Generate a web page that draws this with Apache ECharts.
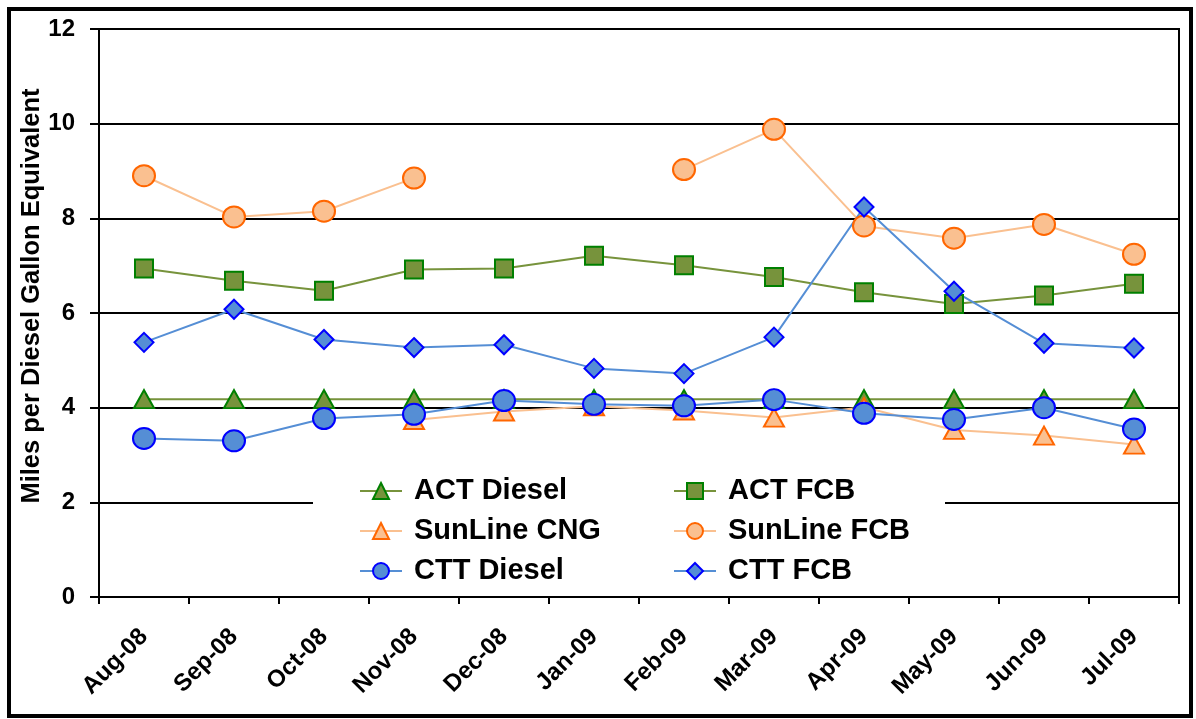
<!DOCTYPE html>
<html>
<head>
<meta charset="utf-8">
<script src="https://cdn.jsdelivr.net/npm/echarts@6/dist/echarts.min.js"></script>
<style>
html,body{margin:0;padding:0;background:#fff;}
#chart{width:1196px;height:719px;}
</style>
</head>
<body>
<div id="chart"></div>
<script>
const categories = ['Aug-08','Sep-08','Oct-08','Nov-08','Dec-08','Jan-09','Feb-09','Mar-09','Apr-09','May-09','Jun-09','Jul-09'];
const yTicks = [0, 2, 4, 6, 8, 10, 12];
const actDiesel = [4.18, 4.18, 4.18, 4.18, 4.18, 4.18, 4.18, 4.18, 4.18, 4.18, 4.18, 4.18];
const actFCB = [6.94, 6.68, 6.47, 6.92, 6.94, 7.21, 7.01, 6.76, 6.44, 6.19, 6.37, 6.62];
const sunlineCNG = [null, null, null, 3.74, 3.92, 4.03, 3.94, 3.79, 4.01, 3.53, 3.41, 3.22];
const sunlineFCB = [8.90, 8.03, 8.15, 8.85, null, null, 9.03, 9.88, 7.84, 7.58, 7.87, 7.24];
const cttDiesel = [3.35, 3.30, 3.77, 3.86, 4.15, 4.07, 4.04, 4.17, 3.88, 3.75, 4.00, 3.55];
const cttFCB = [5.38, 6.08, 5.44, 5.27, 5.33, 4.83, 4.72, 5.49, 8.24, 6.46, 5.36, 5.26];

const FONT = 'Liberation Sans, Arial, sans-serif';
const OLIVE = '#77933C', GREEN = '#008000';
const PEACH = '#FAC090', ORANGE = '#FF6600';
const BLUE = '#558ED5', DBLUE = '#0000FF';

function mk(name, data, lineColor, fill, border, symbol, size) {
  return {
    name: name, type: 'line', data: data,
    symbol: symbol, symbolSize: size,
    connectNulls: false,
    lineStyle: {color: lineColor, width: 2},
    itemStyle: {color: fill, borderColor: border, borderWidth: 2},
    emphasis: {disabled: true},
    animation: false
  };
}

const chart = echarts.init(document.getElementById('chart'));
const legendText = {fontFamily: FONT, fontWeight: 'bold', fontSize: 29, color: '#000', lineHeight: 30, padding: [0,0,0,7]};
chart.setOption({
  backgroundColor: '#fff',
  animation: false,
  grid: {left: 99, right: 17, top: 29, bottom: 122, show: true, borderColor: '#000', borderWidth: 2, backgroundColor: 'transparent'},
  xAxis: {
    type: 'category', data: categories, boundaryGap: true,
    axisLine: {lineStyle: {color: '#000', width: 2}},
    axisTick: {show: true, length: 7, lineStyle: {color: '#000', width: 2}},
    axisLabel: {rotate: 45, margin: 36, fontFamily: FONT, fontWeight: 'bold', fontSize: 24, color: '#000'},
    splitLine: {show: false}
  },
  yAxis: {
    type: 'value', min: 0, max: 12, interval: 2,
    name: 'Miles per Diesel Gallon Equivalent', nameLocation: 'middle', nameGap: 54, nameRotate: 90,
    nameMoveOverlap: false,
    nameTextStyle: {fontFamily: FONT, fontWeight: 'bold', fontSize: 25.5, color: '#000', padding: [0, 0, 0, 34]},
    axisLine: {show: true, lineStyle: {color: '#000', width: 2}},
    axisTick: {show: true, length: 9, lineStyle: {color: '#000', width: 2}},
    axisLabel: {margin: 24, fontFamily: FONT, fontWeight: 'bold', fontSize: 24, color: '#000',
      formatter: function(v){ return yTicks.indexOf(v) >= 0 ? String(v) : ''; }},
    splitLine: {show: true, lineStyle: {color: '#000', width: 2}}
  },
  legend: [
    {orient: 'vertical', left: 354, top: 471, itemWidth: 42, itemHeight: 20, itemGap: 10, z: 20,
     data: ['ACT Diesel', 'SunLine CNG', 'CTT Diesel'], textStyle: legendText, selectedMode: false},
    {orient: 'vertical', left: 668, top: 471, itemWidth: 42, itemHeight: 20, itemGap: 10, z: 20,
     data: ['ACT FCB', 'SunLine FCB', 'CTT FCB'], textStyle: legendText, selectedMode: false}
  ],
  graphic: [
    {type: 'rect', z: 5, silent: true, shape: {x: 313, y: 466, width: 632, height: 127}, style: {fill: '#fff'}},
    {type: 'rect', z: 30, silent: true, shape: {x: 9, y: 9, width: 1182, height: 707}, style: {fill: null, stroke: '#000', lineWidth: 4}}
  ],
  series: [
    mk('ACT Diesel', actDiesel, OLIVE, OLIVE, GREEN, 'triangle', [20, 18]),
    mk('ACT FCB', actFCB, OLIVE, OLIVE, GREEN, 'rect', [18, 18]),
    mk('SunLine CNG', sunlineCNG, PEACH, PEACH, ORANGE, 'triangle', [20, 18]),
    mk('SunLine FCB', sunlineFCB, PEACH, PEACH, ORANGE, 'circle', [22, 21]),
    mk('CTT Diesel', cttDiesel, BLUE, BLUE, DBLUE, 'circle', [22, 21]),
    mk('CTT FCB', cttFCB, BLUE, BLUE, DBLUE, 'diamond', [19, 19])
  ]
});
</script>
</body>
</html>
